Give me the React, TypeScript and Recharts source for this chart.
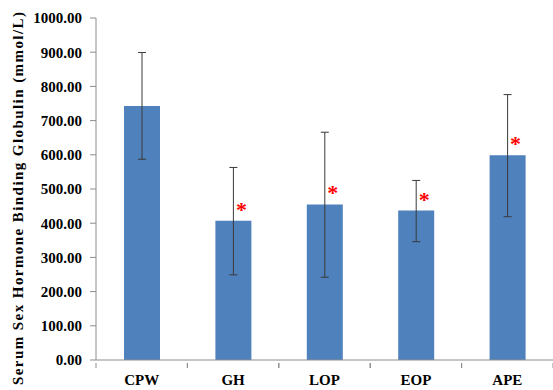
import React from "react";
import { BarChart, Bar, XAxis, YAxis, ErrorBar, LabelList } from "recharts";

const categories = ["CPW", "GH", "LOP", "EOP", "APE"];
const means = [743, 407, 455, 437, 599];
const uppers = [899, 563, 666, 525, 776];
const lowers = [587, 249, 242, 346, 419];
const stars = ["", "*", "*", "*", "*"];
const yTicks = [0, 100, 200, 300, 400, 500, 600, 700, 800, 900, 1000];

const data = categories.map((c, i) => ({
  name: c,
  value: means[i],
  err: [means[i] - lowers[i], uppers[i] - means[i]],
  star: stars[i],
}));

const FONT = "'Liberation Serif', 'Times New Roman', serif";
const AXIS = "#8c8c8c";

const XTick = (props: any) => {
  const { x, y, payload } = props;
  const half = 457 / 5 / 2;
  return (
    <g>
      <line x1={x - half} x2={x - half} y1={y - 5} y2={y} stroke={AXIS} />
      <line x1={x + half} x2={x + half} y1={y - 5} y2={y} stroke={AXIS} />
      <text x={x} y={y + 17} textAnchor="middle" fontFamily={FONT} fontWeight="bold" fontSize={15} fill="#000">
        {payload.value}
      </text>
    </g>
  );
};

const StarLabel = (props: any) => {
  const { x, y, width, value } = props;
  if (!value) return null;
  return (
    <text x={x + width / 2 + 8} y={y - 14 + 10} textAnchor="middle" fontFamily={FONT} fontWeight="bold" fontSize={22} fill="#ff0000">
      {value}
    </text>
  );
};

const YLabel = () => (
  <text
    x={23}
    y={198.5}
    transform="rotate(-90 23 198.5)"
    textAnchor="middle"
    fontFamily={FONT}
    fontWeight="bold"
    fontSize={15}
    fill="#000"
    textLength={373}
    lengthAdjust="spacing"
  >
    Serum Sex Hormone Binding Globulin (mmol/L)
  </text>
);

export default function App() {
  return (
    <div style={{ position: "absolute", left: 0, top: 0, width: 553, height: 390, background: "#fff" }}>
      <BarChart width={553} height={390} data={data} margin={{ top: 18, right: 0, bottom: 0, left: 0 }}>
        <XAxis
          dataKey="name"
          height={30}
          axisLine={{ stroke: AXIS }}
          tickLine={false}
          tick={<XTick />}
          interval={0}
        />
        <YAxis
          width={96}
          domain={[0, 1000]}
          ticks={yTicks}
          interval={0}
          tickFormatter={(v: number) => v.toFixed(2)}
          axisLine={{ stroke: AXIS }}
          tickLine={{ stroke: AXIS }}
          tickSize={6}
          tickMargin={8}
          tick={{ fontFamily: FONT, fontWeight: "bold", fontSize: 15, fill: "#000" }}
          label={<YLabel />}
        />
        <Bar dataKey="value" fill="#4F81BD" barSize={36} isAnimationActive={false}>
          <ErrorBar dataKey="err" width={4} stroke="#3a3a3a" strokeWidth={1} direction="y" />
          <LabelList dataKey="star" content={<StarLabel />} />
        </Bar>
      </BarChart>
    </div>
  );
}
